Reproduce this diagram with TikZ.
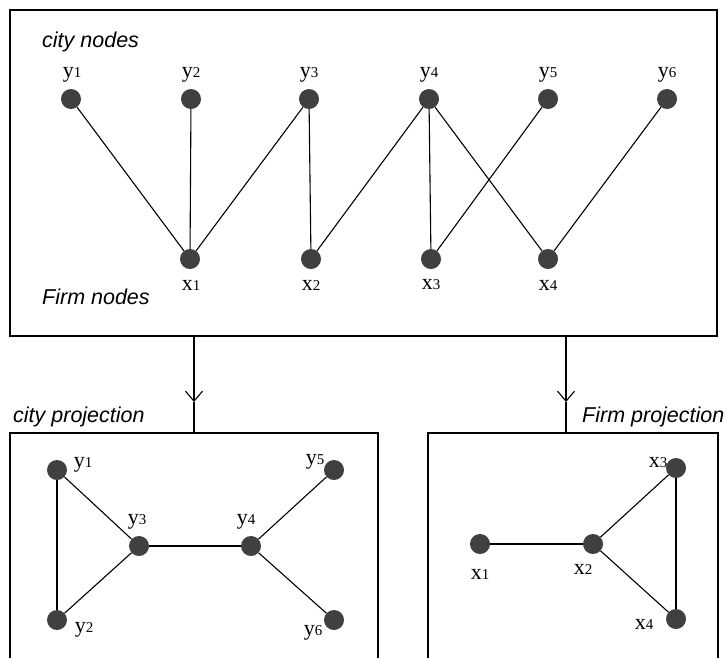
\documentclass[tikz,border=0pt]{standalone}
\usepackage{fontspec}
\setmainfont{Liberation Serif}
\setsansfont{Liberation Sans}
\usetikzlibrary{arrows.meta}
\newcommand\lbl[2]{#1{\fontsize{15}{15}\selectfont #2}}
\tikzset{
  vert/.style={circle,fill=black!75,inner sep=0pt,minimum size=20pt},
  edge/.style={line width=1.1pt,black},
  frame/.style={draw,line width=1.3pt,inner sep=0pt},
  vlab/.style={inner sep=0pt,font=\fontsize{22}{22}\selectfont},
  title/.style={inner sep=0pt,anchor=west,font=\sffamily\itshape\fontsize{21.5}{21.5}\selectfont},
  flow/.style={line width=1.1pt}
}
\begin{document}
\begin{tikzpicture}[x=1pt,y=-1pt]
\useasboundingbox (0,0) rectangle (727,657);
\clip (0,0) rectangle (727,657);
\fill[white] (0,0) rectangle (727,657);
% frames
\node[frame,minimum width=707pt,minimum height=326pt] (topbox) at (363.5,173) {};
\node[frame,minimum width=368pt,minimum height=247pt] (cbox) at (194,556.5) {};
\node[frame,minimum width=290pt,minimum height=247pt] (fbox) at (573,556.5) {};
% titles
\node[title] (t1) at (42,42) {city nodes};
\node[title] (t2) at (42,297) {Firm nodes};
\node[title] (t3) at (13,417) {city projection};
\node[title] (t4) at (582,417) {Firm projection};
% bipartite graph
\node[vert] (y1) at (71,99) {};
\node[vert] (y2) at (191,99) {};
\node[vert] (y3) at (309,99) {};
\node[vert] (y4) at (429,99) {};
\node[vert] (y5) at (548,99) {};
\node[vert] (y6) at (667,99) {};
\node[vert] (x1) at (190,259) {};
\node[vert] (x2) at (311,259) {};
\node[vert] (x3) at (431,259) {};
\node[vert] (x4) at (548,259) {};
\node[vlab] (ly1) at (72,75) {\lbl{y}{1}};
\node[vlab] (ly2) at (191,75) {\lbl{y}{2}};
\node[vlab] (ly3) at (309,75) {\lbl{y}{3}};
\node[vlab] (ly4) at (429,75) {\lbl{y}{4}};
\node[vlab] (ly5) at (548,75) {\lbl{y}{5}};
\node[vlab] (ly6) at (667,75) {\lbl{y}{6}};
\node[vlab] (lx1) at (191,285) {\lbl{x}{1}};
\node[vlab] (lx2) at (311,285) {\lbl{x}{2}};
\node[vlab] (lx3) at (431,285) {\lbl{x}{3}};
\node[vlab] (lx4) at (548,285) {\lbl{x}{4}};
\draw[edge] (y1) -- (x1);
\draw[edge] (y2) -- (x1);
\draw[edge] (y3) -- (x1);
\draw[edge] (y3) -- (x2);
\draw[edge] (y4) -- (x2);
\draw[edge] (y4) -- (x3);
\draw[edge] (y4) -- (x4);
\draw[edge] (y5) -- (x3);
\draw[edge] (y6) -- (x4);
% arrows
\coordinate (a1) at (194,336);
\coordinate (m1) at (194,402);
\coordinate (b1) at (194,433);
\coordinate (a2) at (566,336);
\coordinate (m2) at (566,402);
\coordinate (b2) at (566,433);
\draw[flow,-{Straight Barb[length=10pt,width=17pt]}] (a1) -- (m1);
\draw[flow] (m1) -- (b1);
\draw[flow,-{Straight Barb[length=10pt,width=17pt]}] (a2) -- (m2);
\draw[flow] (m2) -- (b2);
% city projection
\node[vert] (c1) at (57,470) {};
\node[vert] (c2) at (57,620) {};
\node[vert] (c3) at (139,546) {};
\node[vert] (c4) at (251,546) {};
\node[vert] (c5) at (334,470) {};
\node[vert] (c6) at (334,620) {};
\node[vlab] (lc1) at (83,465) {\lbl{y}{1}};
\node[vlab] (lc2) at (84,630) {\lbl{y}{2}};
\node[vlab] (lc3) at (137,522) {\lbl{y}{3}};
\node[vlab] (lc4) at (246,522) {\lbl{y}{4}};
\node[vlab] (lc5) at (315,462) {\lbl{y}{5}};
\node[vlab] (lc6) at (313,633) {\lbl{y}{6}};
\draw[edge] (c1) -- (c2);
\draw[edge] (c1) -- (c3);
\draw[edge] (c2) -- (c3);
\draw[edge] (c3) -- (c4);
\draw[edge] (c4) -- (c5);
\draw[edge] (c4) -- (c6);
% firm projection
\node[vert] (f1) at (480,544) {};
\node[vert] (f2) at (593,544) {};
\node[vert] (f3) at (676,468) {};
\node[vert] (f4) at (676,619) {};
\node[vlab] (lf1) at (480,574) {\lbl{x}{1}};
\node[vlab] (lf2) at (583,569) {\lbl{x}{2}};
\node[vlab] (lf3) at (658,463) {\lbl{x}{3}};
\node[vlab] (lf4) at (644,624) {\lbl{x}{4}};
\draw[edge] (f1) -- (f2);
\draw[edge] (f2) -- (f3);
\draw[edge] (f2) -- (f4);
\draw[edge] (f3) -- (f4);
\end{tikzpicture}
\end{document}
